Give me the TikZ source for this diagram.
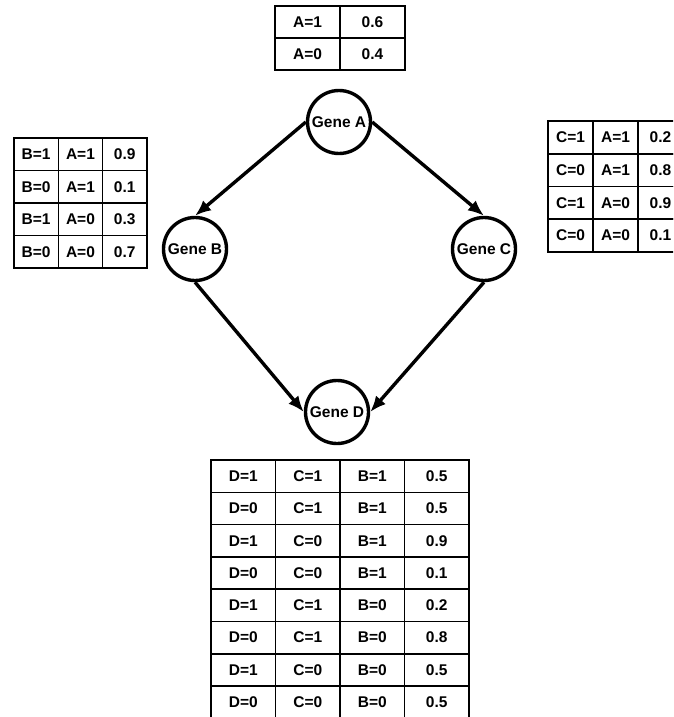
\documentclass[tikz,border=0pt]{standalone}
\usepackage{fontspec}
\setsansfont{Liberation Sans}
\usetikzlibrary{
  matrix,%
  positioning,%
  arrows.meta
}
\tikzset{>={Latex[length=16pt,width=13pt]}}
\tikzset{font=\sffamily\bfseries\fontsize{15.5}{18}\selectfont}
\tikzset{gene/.style={circle, draw=black, line width=3.4pt, minimum size=63pt, inner sep=0pt},
  link/.style={->, line width=3.4pt},
  cpt/.style 2 args={matrix of nodes, inner sep=0pt, anchor=north west,
    column sep=-1.6pt, row sep=-1.6pt,
    nodes={draw, line width=1.6pt, anchor=center, inner sep=0pt,
      minimum width=#1, minimum height=#2}}}

\begin{document}
\begin{tikzpicture}[x=1pt,y=-1pt]
  \useasboundingbox (0,0) rectangle (673,717);
  \clip (0,0) rectangle (673,717);
  \node[gene] (geneA) at (339,122) {Gene A};
  \node[gene] (geneB) at (195,249) {Gene B};
  \node[gene] (geneC) at (484,249) {Gene C};
  \node[gene] (geneD) at (337,412) {Gene D};
  \draw[link] (geneA.west) -- (geneB.north);
  \draw[link] (geneA.east) -- (geneC.north);
  \draw[link] (geneB.south) -- (geneD.west);
  \draw[link] (geneC.south) -- (geneD.east);
  % conditional probability tables
  \matrix (tabA) [cpt={65pt}{32pt}] at (274,5) {
    A=1 & 0.6 \\
    A=0 & 0.4 \\
  };
  \matrix (tabB) [cpt={44.3pt}{32.5pt}] at (13,137) {
    B=1 & A=1 & 0.9 \\
    B=0 & A=1 & 0.1 \\
    B=1 & A=0 & 0.3 \\
    B=0 & A=0 & 0.7 \\
  };
  \matrix (tabC) [cpt={45pt}{32.7pt}] at (547,120) {
    C=1 & A=1 & 0.2 \\
    C=0 & A=1 & 0.8 \\
    C=1 & A=0 & 0.9 \\
    C=0 & A=0 & 0.1 \\
  };
  \matrix (tabD) [cpt={64.5pt}{32.3pt}] at (210,459) {
    D=1 & C=1 & B=1 & 0.5 \\
    D=0 & C=1 & B=1 & 0.5 \\
    D=1 & C=0 & B=1 & 0.9 \\
    D=0 & C=0 & B=1 & 0.1 \\
    D=1 & C=1 & B=0 & 0.2 \\
    D=0 & C=1 & B=0 & 0.8 \\
    D=1 & C=0 & B=0 & 0.5 \\
    D=0 & C=0 & B=0 & 0.5 \\
  };
\end{tikzpicture}
\end{document}
